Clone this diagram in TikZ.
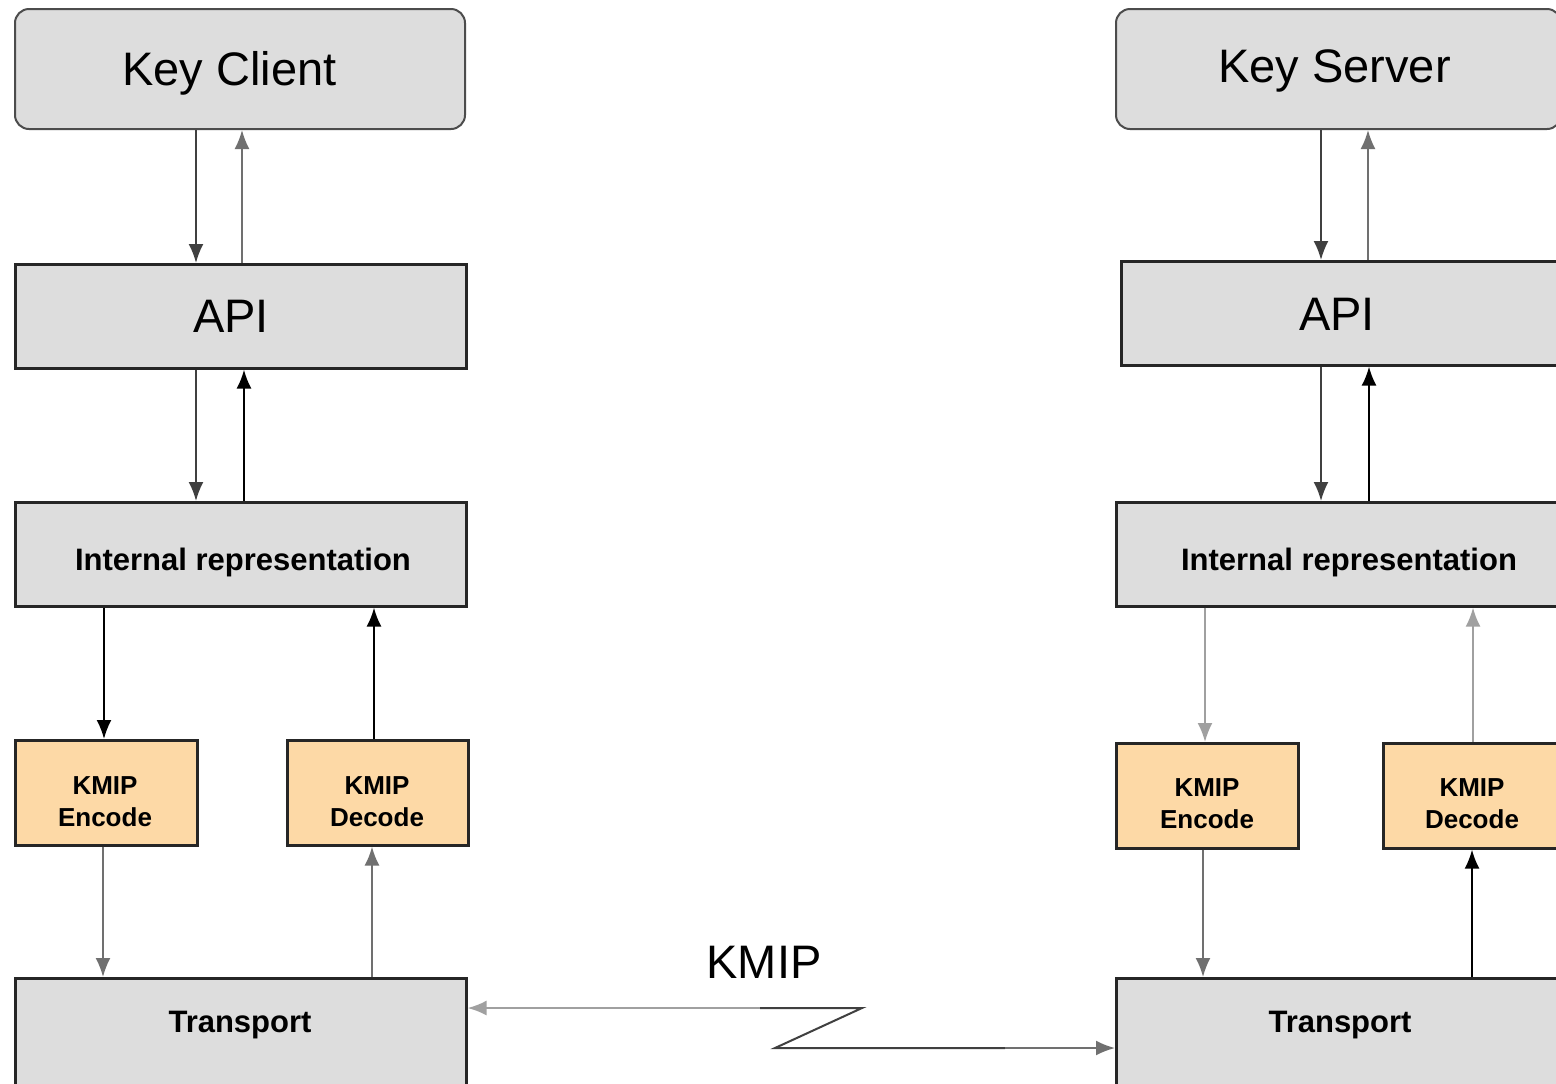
\documentclass[tikz,border=0pt]{standalone}
\usepackage{fontspec}
\setmainfont{Liberation Sans}
\usetikzlibrary{arrows.meta}
\definecolor{boxgray}{HTML}{DDDDDD}
\definecolor{boxorange}{HTML}{FDD9A6}
\definecolor{lineA}{HTML}{404040}
\definecolor{lineB}{HTML}{707070}
\definecolor{lineC}{HTML}{A0A0A0}
\begin{document}
\begin{tikzpicture}[x=0.5pt,y=-0.5pt,
  box/.style={draw=black!85,line width=1.3pt,fill=boxgray,anchor=north west,inner sep=0pt},
  rbox/.style={box,draw=black!70,line width=1pt,rounded corners=7pt},
  obox/.style={box,fill=boxorange},
  big/.style={anchor=base,inner sep=0pt,font=\fontsize{23.5pt}{28pt}\selectfont},
  mid/.style={anchor=base,inner sep=0pt,font=\bfseries\fontsize{15.5pt}{18pt}\selectfont},
  small/.style={anchor=base,inner sep=0pt,font=\bfseries\fontsize{13pt}{16pt}\selectfont},
  arr/.style={line width=1pt,-{Latex[length=9.5pt,width=7.5pt]}},
]
\clip (0,0) rectangle (1556,1083);
\fill[white] (0,0) rectangle (1556,1083);

% ---------- left column ----------
\node[rbox,minimum width=225pt,minimum height=60pt] (kc) at (14,8) {};
\node[box,minimum width=225.5pt,minimum height=52pt] (api1) at (14,263) {};
\node[box,minimum width=225.5pt,minimum height=52pt] (ir1) at (14,501) {};
\node[obox,minimum width=91pt,minimum height=52.5pt] (enc1) at (14,739) {};
\node[obox,minimum width=90.5pt,minimum height=52.5pt] (dec1) at (286,739) {};
\node[box,minimum width=225.5pt,minimum height=75pt] (tr1) at (14,977) {};

\node[big] (kct) at (229.5,85) {Key Client};
\node[big] (api1t) at (231,332) {API};
\node[mid] (ir1t) at (243,570) {Internal representation};
\node[small] (enc1a) at (105,794) {KMIP};
\node[small] (enc1b) at (105,826) {Encode};
\node[small] (dec1a) at (377,794) {KMIP};
\node[small] (dec1b) at (377,826) {Decode};
\node[mid] (tr1t) at (240,1032) {Transport};

% ---------- right column ----------
\node[rbox,minimum width=222.5pt,minimum height=60pt] (ks) at (1115,8) {};
\node[box,minimum width=225pt,minimum height=52pt] (api2) at (1120,260) {};
\node[box,minimum width=234pt,minimum height=52pt] (ir2) at (1115,501) {};
\node[obox,minimum width=91pt,minimum height=52.5pt] (enc2) at (1115,742) {};
\node[obox,minimum width=90.5pt,minimum height=52.5pt] (dec2) at (1382,742) {};
\node[box,minimum width=225pt,minimum height=75pt] (tr2) at (1115,977) {};

\node[big] (kst) at (1334.5,82) {Key Server};
\node[big] (api2t) at (1337,330) {API};
\node[mid] (ir2t) at (1349,570) {Internal representation};
\node[small] (enc2a) at (1207,796) {KMIP};
\node[small] (enc2b) at (1207,828) {Encode};
\node[small] (dec2a) at (1472,796) {KMIP};
\node[small] (dec2b) at (1472,828) {Decode};
\node[mid] (tr2t) at (1340,1032) {Transport};

% column coordinates
\coordinate (c196) at (196,0);
\coordinate (c242) at (242,0);
\coordinate (c244) at (244,0);
\coordinate (c104) at (104,0);
\coordinate (c374) at (374,0);
\coordinate (c103) at (103,0);
\coordinate (c372) at (372,0);
\coordinate (d1321) at (1321,0);
\coordinate (d1368) at (1368,0);
\coordinate (d1369) at (1369,0);
\coordinate (d1205) at (1205,0);
\coordinate (d1473) at (1473,0);
\coordinate (d1203) at (1203,0);
\coordinate (d1472) at (1472,0);

% ---------- left connectors ----------
\draw[arr,lineA] (kc.south -| c196) -- (api1.north -| c196);
\draw[arr,lineB] (api1.north -| c242) -- (kc.south -| c242);
\draw[arr,lineA] (api1.south -| c196) -- (ir1.north -| c196);
\draw[arr,black] (ir1.north -| c244) -- (api1.south -| c244);
\draw[arr,black] (ir1.south -| c104) -- (enc1.north -| c104);
\draw[arr,black] (dec1.north -| c374) -- (ir1.south -| c374);
\draw[arr,lineB] (enc1.south -| c103) -- (tr1.north -| c103);
\draw[arr,lineB] (tr1.north -| c372) -- (dec1.south -| c372);

% ---------- right connectors ----------
\draw[arr,lineA] (ks.south -| d1321) -- (api2.north -| d1321);
\draw[arr,lineB] (api2.north -| d1368) -- (ks.south -| d1368);
\draw[arr,lineA] (api2.south -| d1321) -- (ir2.north -| d1321);
\draw[arr,black] (ir2.north -| d1369) -- (api2.south -| d1369);
\draw[arr,lineC] (ir2.south -| d1205) -- (enc2.north -| d1205);
\draw[arr,lineC] (dec2.north -| d1473) -- (ir2.south -| d1473);
\draw[arr,lineB] (enc2.south -| d1203) -- (tr2.north -| d1203);
\draw[arr,black] (tr2.north -| d1472) -- (dec2.south -| d1472);

% ---------- KMIP link ----------
\node[big] (kmip) at (764,978) {KMIP};
\coordinate (z1) at (862,1008);
\coordinate (z2) at (775,1048);
\coordinate (z3) at (760,1008);
\coordinate (z4) at (1005,1048);
\draw[arr,lineC] (z1) -- (tr1.east |- z1);
\draw[line width=1pt,lineA] (z3) -- (z1) -- (z2) -- (z4);
\draw[arr,lineB] (z4) -- (tr2.west |- z4);
\end{tikzpicture}
\end{document}
